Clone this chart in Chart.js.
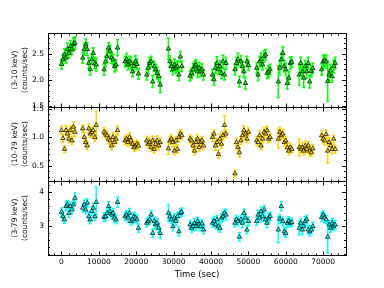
<!DOCTYPE html>
<html>
<head>
<meta charset="utf-8">
<script src="https://cdn.jsdelivr.net/npm/chart.js@4.4.0/dist/chart.umd.min.js"></script>
<style>
  html, body { margin: 0; padding: 0; background: #fff; }
  #wrap { width: 384px; height: 288px; }
</style>
</head>
<body>
<div id="wrap"><canvas id="lcChart"></canvas></div>
<script>
// time bins (sec), 13 orbits
var times = [
  0, 400, 800, 1200, 1600, 2000, 2400, 2800, 3200, 3600,
  5700, 6100, 6500, 6900, 7300, 7700, 8100, 8500, 8900, 9300,
  11400, 11800, 12200, 12600, 13000, 13400, 13800, 14200, 14600, 15000,
  17000, 17400, 17800, 18200, 18600, 19000, 19400, 19800, 20200, 20600,
  22800, 23200, 23600, 24000, 24400, 24800, 25200, 25600, 26000, 26400,
  28600, 29000, 29400, 29800, 30200, 30600, 31000, 31400, 31800, 32200,
  34400, 34800, 35200, 35600, 36000, 36400, 36800, 37200, 37600, 38000,
  40400, 40800, 41200, 41600, 42000, 42400, 42800, 43200, 43600, 44000,
  46400, 46800, 47200, 47600, 48000, 48400, 48800, 49200, 49600, 50000,
  52200, 52600, 53000, 53400, 53800, 54200, 54600, 55000, 55400, 55800,
  58000, 58400, 58800, 59200, 59600, 60000, 60400, 60800, 61200, 61600,
  63600, 64000, 64400, 64800, 65200, 65600, 66000, 66400, 66800, 67200,
  69600, 70000, 70400, 70800, 71200, 71600, 72000, 72400, 72800, 73200
];

// 3-10 keV
var softRate = [
  2.30, 2.39, 2.48, 2.42, 2.58, 2.51, 2.64, 2.58, 2.68, 2.70,
  2.42, 2.58, 2.67, 2.58, 2.32, 2.20, 2.39, 2.51, 2.32, 2.29,
  2.20, 2.35, 2.45, 2.61, 2.55, 2.42, 2.39, 2.26, 2.29, 2.61,
  2.35, 2.39, 2.29, 2.35, 2.32, 2.16, 2.26, 2.35, 2.30, 2.12,
  2.10, 2.23, 2.32, 2.35, 1.97, 2.26, 2.20, 2.13, 2.07, 1.91,
  2.59, 2.35, 2.26, 2.20, 2.29, 2.23, 2.26, 2.10, 2.44, 2.26,
  2.08, 2.13, 2.20, 2.26, 2.29, 2.16, 2.23, 2.16, 2.20, 2.10,
  2.10, 2.01, 2.23, 2.32, 2.20, 2.26, 2.13, 2.35, 2.10, 2.32,
  2.20, 2.32, 2.39, 1.97, 2.35, 2.26, 2.16, 1.94, 2.35, 2.28,
  2.23, 2.10, 2.35, 2.39, 2.29, 2.45, 2.48, 2.13, 2.16, 2.20,
  1.97, 2.23, 2.39, 2.51, 2.26, 2.20, 1.94, 2.04, 2.32, 2.34,
  2.10, 2.32, 2.16, 2.04, 2.26, 2.16, 2.32, 1.97, 2.17, 2.22,
  2.20, 2.35, 2.37, 2.35, 1.98, 2.10, 2.18, 2.07, 2.26, 2.32
];
var softErr = [
  .09, .10, .11, .10, .12, .10, .11, .10, .12, .12,
  .10, .11, .10, .12, .10, .11, .10, .10, .11, .12,
  .11, .10, .12, .10, .11, .10, .10, .11, .10, .15,
  .10, .11, .10, .10, .11, .10, .10, .11, .10, .10,
  .10, .11, .10, .10, .11, .10, .10, .11, .10, .15,
  .20, .11, .10, .10, .11, .10, .10, .11, .10, .10,
  .10, .10, .11, .10, .10, .11, .10, .10, .11, .10,
  .10, .11, .10, .12, .10, .11, .10, .12, .10, .11,
  .10, .11, .12, .10, .11, .10, .10, .11, .10, .10,
  .10, .11, .10, .12, .10, .11, .10, .10, .11, .10,
  .30, .13, .12, .12, .11, .12, .11, .12, .11, .10,
  .20, .11, .12, .18, .11, .12, .11, .12, .11, .10,
  .11, .12, .11, .12, .38, .11, .12, .11, .12, .11
];

// 10-79 keV
var hardRate = [
  1.12, 0.98, 0.79, 1.12, 1.06, 0.97, 1.12, 0.94, 1.18, 1.09,
  1.15, 1.00, 0.91, 0.85, 1.15, 1.06, 1.09, 1.12, 1.00, 1.21,
  1.09, 1.06, 1.03, 0.97, 0.94, 0.85, 1.00, 0.91, 0.97, 1.12,
  0.94, 0.97, 0.91, 1.00, 0.94, 0.88, 0.82, 0.85, 0.88, 0.85,
  0.94, 0.88, 0.91, 0.82, 0.94, 0.79, 0.88, 0.94, 0.85, 0.91,
  0.80, 0.94, 0.97, 0.91, 0.76, 0.94, 0.79, 1.00, 1.06, 1.03,
  0.97, 0.94, 0.85, 0.76, 0.91, 0.97, 0.82, 0.91, 0.94, 0.85,
  1.00, 1.06, 0.85, 0.91, 0.70, 0.97, 0.88, 1.03, 1.21, 1.06,
  0.36, 0.91, 0.82, 0.73, 0.94, 1.03, 1.12, 1.06, 0.97, 1.09,
  0.94, 0.91, 1.03, 0.85, 0.97, 1.09, 1.06, 1.12, 0.97, 1.00,
  0.97, 1.09, 1.03, 1.06, 0.91, 0.94, 0.82, 0.76, 0.82, 0.79,
  0.82, 0.79, 0.82, 0.76, 0.85, 0.79, 0.85, 0.76, 0.73, 0.80,
  1.03, 0.97, 0.94, 1.05, 0.76, 0.91, 0.85, 0.79, 0.97, 0.79
];
var hardErr = [
  .07, .07, .06, .08, .07, .07, .07, .07, .08, .08,
  .07, .08, .07, .07, .08, .07, .08, .07, .07, .25,
  .08, .07, .07, .08, .07, .07, .08, .07, .07, .08,
  .07, .07, .07, .08, .07, .07, .07, .07, .07, .07,
  .07, .07, .07, .07, .08, .07, .07, .08, .07, .07,
  .10, .07, .07, .08, .07, .07, .07, .08, .07, .07,
  .07, .07, .07, .07, .08, .07, .07, .07, .07, .07,
  .07, .07, .08, .07, .07, .08, .07, .07, .17, .07,
  .06, .07, .07, .08, .07, .07, .08, .07, .07, .07,
  .07, .07, .08, .07, .07, .08, .07, .07, .07, .07,
  .17, .08, .07, .08, .07, .07, .08, .07, .07, .07,
  .15, .07, .08, .07, .08, .07, .07, .08, .07, .07,
  .08, .07, .08, .07, .22, .08, .07, .08, .07, .07
];

// 3-79 keV
var fullRate = [
  3.42, 3.29, 3.20, 3.59, 3.64, 3.39, 3.59, 3.49, 3.64, 3.83,
  3.54, 3.64, 3.49, 3.69, 3.29, 3.20, 3.44, 3.54, 3.29, 3.71,
  3.27, 3.29, 3.39, 3.59, 3.44, 3.34, 3.39, 3.25, 3.20, 3.71,
  3.29, 3.34, 3.25, 3.39, 3.15, 3.20, 3.29, 3.25, 3.20, 2.95,
  3.10, 3.15, 3.20, 3.34, 2.80, 3.15, 3.05, 3.10, 2.95, 2.80,
  3.39, 3.29, 3.20, 3.00, 3.25, 3.15, 3.29, 2.85, 3.39, 3.42,
  3.05, 2.95, 3.00, 3.10, 3.00, 3.15, 3.05, 3.00, 3.08, 2.90,
  3.10, 3.15, 3.05, 3.20, 3.00, 2.95, 3.25, 3.29, 3.39, 3.34,
  3.10, 3.20, 3.15, 2.69, 3.20, 3.10, 3.39, 3.25, 2.90, 3.15,
  3.15, 3.34, 3.25, 3.44, 3.29, 3.49, 3.20, 3.10, 3.25, 3.30,
  2.90, 3.22, 3.59, 3.15, 2.85, 2.80, 3.10, 3.15, 3.10, 3.12,
  2.95, 3.10, 2.90, 3.00, 3.15, 3.20, 2.90, 2.85, 2.90, 3.00,
  3.27, 3.34, 3.25, 3.20, 2.69, 3.05, 2.95, 3.10, 3.00, 3.05
];
var fullErr = [
  .12, .12, .11, .13, .12, .12, .12, .13, .12, .15,
  .12, .13, .12, .12, .13, .12, .12, .13, .12, .45,
  .13, .12, .12, .13, .12, .12, .13, .12, .12, .15,
  .12, .12, .12, .13, .12, .12, .12, .13, .12, .12,
  .12, .12, .13, .12, .12, .12, .13, .12, .12, .15,
  .25, .12, .12, .13, .12, .12, .12, .13, .12, .12,
  .12, .12, .12, .13, .12, .12, .12, .13, .12, .12,
  .12, .13, .12, .12, .13, .12, .12, .13, .12, .15,
  .12, .12, .13, .12, .12, .13, .12, .12, .12, .12,
  .12, .13, .12, .12, .13, .12, .12, .13, .12, .12,
  .38, .13, .13, .12, .13, .12, .12, .13, .12, .12,
  .20, .12, .13, .12, .13, .12, .12, .13, .12, .12,
  .13, .12, .13, .12, .47, .13, .12, .13, .12, .12
];

// tick labels
var timeTicks = [0, 10000, 20000, 30000, 40000, 50000, 60000, 70000];
var softTicks = [1.5, 2.0, 2.5];
var hardTicks = [0.5, 1.0, 1.5];
var fullTicks = [3, 4];

var minorSteps = { x: 2000, y1: 0.1, y2: 0.1, y3: 0.2 };

Chart.defaults.font.family = "'DejaVu Sans', sans-serif";
Chart.defaults.color = '#000';

function points(vals) {
  return vals.map(function (v, i) { return { x: times[i], y: v }; });
}

function makeSet(vals, errs, color, axis) {
  return {
    data: points(vals),
    errors: errs,
    yAxisID: axis,
    showLine: false,
    pointStyle: 'triangle',
    pointRadius: 2.6,
    backgroundColor: color,
    borderColor: '#000',
    borderWidth: 0.7,
    barColor: color
  };
}

// vertical error bars with small caps
var errorBars = {
  id: 'errorBars',
  beforeDatasetsDraw: function (chart) {
    var ctx = chart.ctx;
    var xs = chart.scales.x;
    chart.data.datasets.forEach(function (ds) {
      var ys = chart.scales[ds.yAxisID];
      ctx.save();
      ctx.strokeStyle = ds.barColor;
      ctx.lineWidth = 1.5;
      ds.data.forEach(function (p, j) {
        var x = xs.getPixelForValue(p.x);
        var lo = ys.getPixelForValue(p.y - ds.errors[j]);
        var hi = ys.getPixelForValue(p.y + ds.errors[j]);
        ctx.beginPath();
        ctx.moveTo(x, lo); ctx.lineTo(x, hi);
        ctx.moveTo(x - 1.5, lo); ctx.lineTo(x + 1.5, lo);
        ctx.moveTo(x - 1.5, hi); ctx.lineTo(x + 1.5, hi);
        ctx.stroke();
      });
      ctx.restore();
    });
  }
};

// panel frames + inward ticks, matplotlib style
var frames = {
  id: 'frames',
  afterDraw: function (chart) {
    var ctx = chart.ctx;
    var xs = chart.scales.x;
    var left = chart.chartArea.left, right = chart.chartArea.right;
    ctx.save();
    ctx.strokeStyle = '#000';
    ctx.lineWidth = 1;
    function seg(x1, y1, x2, y2) {
      ctx.beginPath(); ctx.moveTo(x1, y1); ctx.lineTo(x2, y2); ctx.stroke();
    }
    ['y1', 'y2', 'y3'].forEach(function (id) {
      var ys = chart.scales[id];
      var top = Math.round(ys.top) + 0.5, bot = Math.round(ys.bottom) + 0.5;
      ctx.strokeRect(Math.round(left) + 0.5, top, Math.round(right - left), bot - top);
      var t, px, len;
      for (t = Math.ceil(xs.min / minorSteps.x) * minorSteps.x; t <= xs.max; t += minorSteps.x) {
        px = Math.round(xs.getPixelForValue(t)) + 0.5;
        len = t % 10000 === 0 ? 4 : 2;
        seg(px, top, px, top + len);
        seg(px, bot, px, bot - len);
      }
      var st = minorSteps[id];
      for (var k = Math.ceil(ys.min / st - 1e-6); k * st <= ys.max + 1e-9; k++) {
        var v = k * st;
        var py = Math.round(ys.getPixelForValue(v)) + 0.5;
        var major = Math.abs(v / (st * 5) - Math.round(v / (st * 5))) < 1e-6;
        len = major ? 4 : 2;
        seg(left, py, left + len, py);
        seg(right, py, right - len, py);
      }
    });
    ctx.restore();
  }
};

function fixTicks(list) {
  return function (s) {
    s.ticks = list.map(function (v) { return { value: v }; });
  };
}

function yAxis(min, max, list, digits, title) {
  return {
    type: 'linear',
    position: 'left',
    stack: 'lc',
    stackWeight: 1,
    min: min,
    max: max,
    grid: { display: false, drawTicks: false },
    border: { display: false },
    afterBuildTicks: fixTicks(list),
    ticks: {
      autoSkip: false,
      padding: 4,
      font: { size: 7.5 },
      callback: function (v) { return v.toFixed(digits); }
    },
    title: {
      display: true,
      text: title,
      font: { size: 7.5, lineHeight: 1.35 },
      padding: { top: 10, bottom: 0 }
    },
    afterFit: function (s) { s.width = 48; }
  };
}

var ctx = document.getElementById('lcChart');
if (ctx) {
  var lcChart = new Chart(ctx, {
    type: 'scatter',
    data: {
      datasets: [
        makeSet(softRate, softErr, '#00ff00', 'y1'),
        makeSet(hardRate, hardErr, '#ffd000', 'y2'),
        makeSet(fullRate, fullErr, '#00ffff', 'y3')
      ]
    },
    options: {
      responsive: true,
      maintainAspectRatio: false,
      animation: false,
      layout: { padding: { top: 33, right: 38, left: 0, bottom: 0 } },
      plugins: {
        legend: { display: false },
        tooltip: { enabled: false }
      },
      scales: {
        x: {
          type: 'linear',
          min: -3600,
          max: 76100,
          grid: { display: false, drawTicks: false },
          border: { display: false },
          afterBuildTicks: fixTicks(timeTicks),
          ticks: {
            autoSkip: false,
            maxRotation: 0,
            padding: 3,
            font: { size: 7.5 },
            callback: function (v) { return String(v); }
          },
          title: {
            display: true,
            text: 'Time (sec)',
            font: { size: 8.5 },
            padding: { top: 0, bottom: 8 }
          },
          afterFit: function (s) { s.height = 33; }
        },
        y3: yAxis(2.16, 4.33, fullTicks, 0, ['(3-79 keV)', '(counts/sec)']),
        y2: yAxis(0.23, 1.53, hardTicks, 1, ['(10-79 keV)', '(counts/sec)']),
        y1: yAxis(1.49, 2.89, softTicks, 1, ['(3-10 keV)', '(counts/sec)'])
      }
    },
    plugins: [errorBars, frames]
  });
}
</script>
</body>
</html>
